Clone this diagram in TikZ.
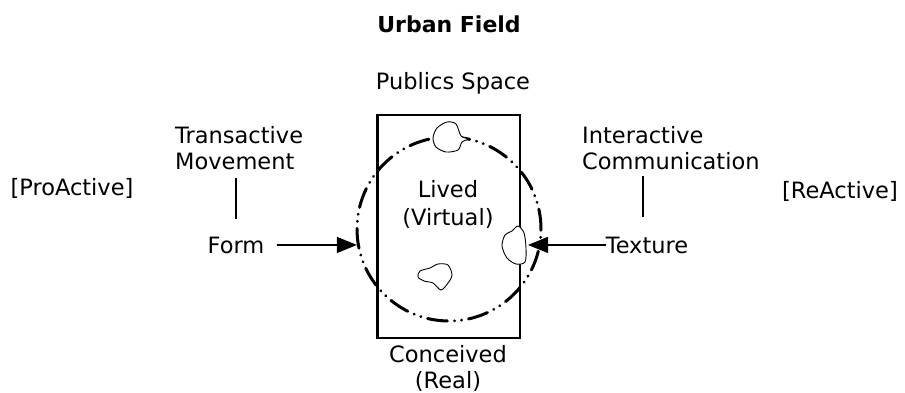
\documentclass[tikz,border=0pt]{standalone}
\usepackage{fontspec}
\setmainfont{DejaVu Sans}
\usetikzlibrary{arrows.meta}

\begin{document}
\begin{tikzpicture}[x=1pt,y=-1pt,
    every node/.style={font=\fontsize{22.5}{27}\selectfont, inner sep=0pt},
    label text/.style={anchor=base},
    conn/.style={line width=1.3pt},
    push/.style={conn, -{Triangle[length=20pt,width=16pt]}},
    blob/.style={line width=0.9pt, fill=white}]
      \useasboundingbox (0,0) rectangle (905,393);

      % title and heading
      \node[label text, font=\fontsize{22}{27}\selectfont\bfseries] (title) at (449,33) {Urban Field};
      \node[label text] (publics) at (453,90) {Publics Space};

      % the field: dash dot dot circle
      \node[circle, minimum size=184pt, draw, line width=3pt, line cap=round,
            dash pattern=on 20pt off 7pt on 0.1pt off 7pt on 0.1pt off 7pt] (field) at (449,229) {};

      % box over it
      \draw[line width=2.5pt] (377.5,115) rectangle (520,338);

      % inside the box
      \node[label text] (lived) at (448,197) {Lived};
      \node[label text] (virtual) at (448,225) {(Virtual)};

      % blobs
      \draw[blob] plot[smooth cycle] coordinates {(437,128) (447,122) (456,124) (461,136) (468,139) (462,142) (458,150) (446,152) (436,147) (433,138)};
      \draw[blob] plot[smooth cycle] coordinates {(420,271) (430,268) (438,264) (448,265) (452,275) (448,283) (441,290) (433,283) (424,281) (418,277)};
      \draw[blob] plot[smooth cycle] coordinates {(518,226) (524,233) (526,248) (525,262) (516,264) (507,258) (502,246) (505,235) (512,231)};

      % below the box
      \node[label text] (conceived) at (448,362) {Conceived};
      \node[label text] (real) at (448,388) {(Real)};

      % left side
      \node[label text] (proactive) at (72,195) {[ProActive]};
      \node[anchor=base west] (trans) at (175,143) {Transactive};
      \node[anchor=base west] (movement) at (175,170) {Movement};
      \node[label text] (form) at (236,253) {Form};

      % right side
      \node[label text] (reactive) at (840,198) {[ReActive]};
      \node[anchor=base west] (inter) at (582,143) {Interactive};
      \node[anchor=base west] (comm) at (582,170) {Communication};
      \node[label text] (texture) at (647,253) {Texture};

      % where the arrows hit
      \coordinate (formhit) at (field.190);
      \coordinate (texhit) at (528,0);

      % connections
      \draw[conn] (form.north |- movement.south) ++(0,7) -- ++(0,41);
      \draw[conn] (texture.north -| 643,0) ++(0,-60) -- ++(0,41);
      \draw[push, shorten <=12pt] (form.east) -- (form.east -| formhit);
      \draw[push] (texture.west) -- (texture.west -| texhit);
    \end{tikzpicture}
\end{document}
